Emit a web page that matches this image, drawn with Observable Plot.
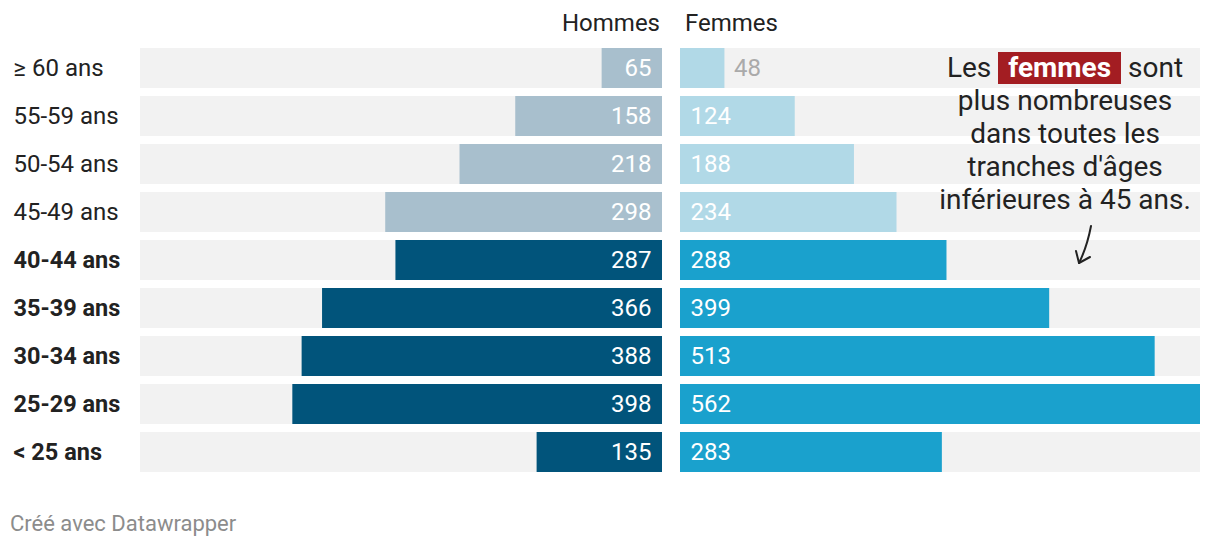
<!DOCTYPE html>
<html><head><meta charset="utf-8">
<script src="https://cdn.jsdelivr.net/npm/d3@7"></script>
<script src="https://cdn.jsdelivr.net/npm/@observablehq/plot@0.6"></script>
<style>
body{margin:0;background:#fff;font-family:Roboto,sans-serif;}
#wrap{position:relative;width:1220px;height:548px;overflow:hidden;}
#wrap svg{position:absolute;top:0;}
.hdr{position:absolute;top:10px;font-size:24px;line-height:26px;color:#222;}
#foot{position:absolute;left:10px;top:512px;font-size:22px;line-height:24px;color:#8c8c8c;}
#note{position:absolute;left:915px;top:51px;width:300px;text-align:center;font-size:28px;line-height:33px;color:#222;}
#note .hl{display:inline-block;height:32px;line-height:32px;background:#a31d22;color:#fff;font-weight:bold;padding:0 10px;}
</style></head><body>
<div id="wrap"></div>
<script>
const ages = ["≥ 60 ans","55-59 ans","50-54 ans","45-49 ans","40-44 ans","35-39 ans","30-34 ans","25-29 ans","< 25 ans"];
const hommes = [65,158,218,298,287,366,388,398,135];
const femmes = [48,124,188,234,288,399,513,562,283];
const youngGroups = ["40-44 ans","35-39 ans","30-34 ans","25-29 ans","< 25 ans"];

const rows = ages.map((a,i)=>({age:a, h:hommes[i], f:femmes[i], young:youngGroups.includes(a)}));
const maxV = d3.max([...hommes,...femmes]);

const common = {
  height:480, marginTop:48, marginBottom:8,
  y:{domain:ages, paddingInner:8/48, paddingOuter:0, axis:null},
  color:{type:"identity"},
  style:{fontFamily:"Roboto, sans-serif", fontSize:"24px", background:"transparent", overflow:"visible"}
};

const left = Plot.plot({...common, width:662, marginLeft:140, marginRight:0,
  x:{domain:[0,maxV], reverse:true, axis:null},
  marks:[
    Plot.barX(rows,{y:"age", x1:0, x2:maxV, fill:"#f2f2f2"}),
    Plot.barX(rows,{y:"age", x1:0, x2:"h", fill:d=>d.young?"#01547b":"#a8bfcd"}),
    Plot.text(rows,{y:"age", x:0, text:d=>String(d.h), textAnchor:"end", dx:-11, fill:"#fff", fontSize:24}),
    Plot.text(rows.filter(d=>!d.young),{y:"age", frameAnchor:"left", dx:-127, text:"age", textAnchor:"start", fill:"#222", fontSize:24}),
    Plot.text(rows.filter(d=>d.young),{y:"age", frameAnchor:"left", dx:-127, text:"age", textAnchor:"start", fill:"#222", fontSize:23.5, fontWeight:"bold"})
  ]});

const right = Plot.plot({...common, width:540, marginLeft:0, marginRight:20,
  x:{domain:[0,maxV], axis:null},
  marks:[
    Plot.barX(rows,{y:"age", x1:0, x2:maxV, fill:"#f2f2f2"}),
    Plot.barX(rows,{y:"age", x1:0, x2:"f", fill:d=>d.young?"#1aa1cd":"#b1d9e7"}),
    Plot.text(rows.filter(d=>d.f>=60),{y:"age", x:0, text:d=>String(d.f), textAnchor:"start", dx:10, fill:"#fff", fontSize:24}),
    Plot.text(rows.filter(d=>d.f<60),{y:"age", x:"f", text:d=>String(d.f), textAnchor:"start", dx:9, fill:"#aaaaaa", fontSize:24})
  ]});

const wrap = document.getElementById("wrap");
left.style.left = "0px";
right.style.left = "680px";
wrap.appendChild(left);
wrap.appendChild(right);

const h1 = document.createElement("div"); h1.className="hdr"; h1.style.right="560px"; h1.textContent="Hommes"; wrap.appendChild(h1);
const h2 = document.createElement("div"); h2.className="hdr"; h2.style.left="685px"; h2.textContent="Femmes"; wrap.appendChild(h2);

const note = document.createElement("div"); note.id="note";
note.innerHTML = 'Les <span class="hl">femmes</span> sont<br>plus nombreuses<br>dans toutes les<br>tranches d\'âges<br>inférieures à 45 ans.';
wrap.appendChild(note);

const ns="http://www.w3.org/2000/svg";
const arr = document.createElementNS(ns,"svg");
arr.setAttribute("width","1220"); arr.setAttribute("height","548");
arr.style.left="0px"; arr.style.pointerEvents="none";
arr.innerHTML = '<path d="M1091,226 Q1087,247 1079,263" fill="none" stroke="#222" stroke-width="2" stroke-linecap="round"/>'+
  '<path d="M1076,251 L1079,263 L1090,257" fill="none" stroke="#222" stroke-width="2" stroke-linecap="round" stroke-linejoin="round"/>';
wrap.appendChild(arr);

const foot = document.createElement("div"); foot.id="foot"; foot.textContent="Créé avec Datawrapper"; wrap.appendChild(foot);
</script>
</body></html>
